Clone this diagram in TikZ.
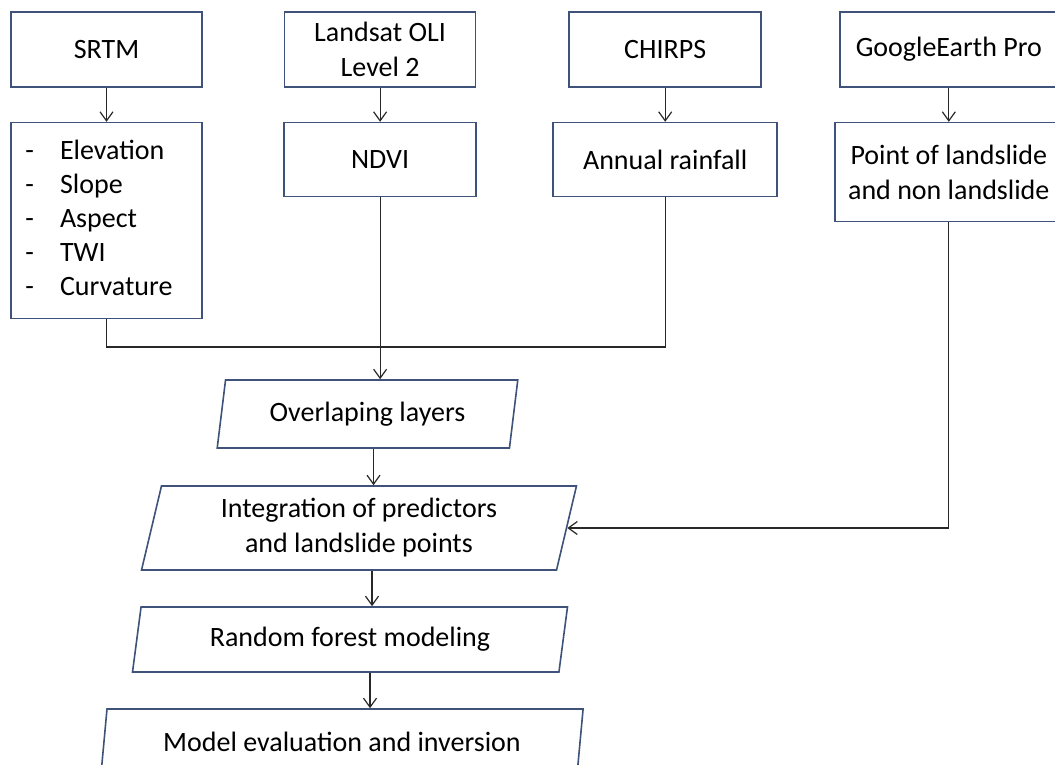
\documentclass[tikz,border=0pt]{standalone}
\usepackage{fontspec}
\setmainfont{Carlito}
\usetikzlibrary{positioning,arrows.meta,shapes.geometric}
\definecolor{boxline}{RGB}{62,82,122}
\definecolor{arrowgray}{RGB}{40,40,40}

\begin{document}
\begin{tikzpicture}[x=1pt,y=-1pt,
   font=\fontsize{28pt}{35pt}\selectfont,
   box/.style={draw=boxline,line width=1.6pt,align=center,inner sep=0pt,minimum height=75pt},
   data/.style={trapezium,trapezium left angle=76.7,trapezium right angle=103.3,
     trapezium stretches=true,draw=boxline,line width=1.6pt,align=center,inner sep=0pt},
   arr/.style={draw=arrowgray,line width=1.2pt,-{Straight Barb[length=9pt,width=13pt]}},
   link/.style={draw=arrowgray,line width=1.2pt}]
  \useasboundingbox (0,0) rectangle (1055,764);
  % data sources
  \node[box,minimum width=191pt] (srtm) at (106.5,49.5) {SRTM};
  \node[box,minimum width=191pt,right=81pt of srtm] (landsat) {Landsat OLI\\Level 2};
  \node[box,minimum width=192pt,right=92pt of landsat] (chirps) {CHIRPS};
  \node[box,minimum width=218pt,right=77pt of chirps] (gep) {GoogleEarth Pro};
  % predictors
  \node[box,minimum width=191pt,minimum height=196pt,below=34pt of srtm,
        font=\fontsize{28pt}{34pt}\selectfont] (terrain)
    {\begin{tabular}{@{}l@{\hspace{26pt}}l@{}}
       - & Elevation\\
       - & Slope\\
       - & Aspect\\
       - & TWI\\
       - & Curvature
     \end{tabular}\hspace*{15pt}};
  \node[box,minimum width=192pt,minimum height=74pt,below=34pt of landsat] (ndvi) {NDVI};
  \node[box,minimum width=224pt,minimum height=74pt,below=34pt of chirps] (rain) {Annual rainfall};
  \node[box,minimum width=228pt,minimum height=99pt,below=34pt of gep] (points)
    {Point of landslide\\and non landslide};
  % processing chain
  \node[data,minimum width=301pt,minimum height=68pt] (over) at (367.5,414) {Overlaping layers};
  \node[data,minimum width=436pt,minimum height=84pt] (integ) at (359,528)
    {Integration of predictors\\and landslide points};
  \node[data,minimum width=436pt,minimum height=65pt] (forest) at (350,639.5) {Random forest modeling};
  \node[data,minimum width=484pt,minimum height=66pt] (eval) at (342,742) {Model evaluation and inversion};

  \coordinate (merge) at (0,347);
  \draw[arr] (srtm) -- (terrain);
  \draw[arr] (landsat.south) -- (landsat.south |- ndvi.north);
  \draw[arr] (chirps) -- (rain);
  \draw[arr] (gep) -- (points);
  \draw[link] (terrain.south) -- (terrain.south |- merge) -- (rain.south |- merge) -- (rain.south);
  \draw[arr] (ndvi.south) -- (ndvi.south |- over.north);
  \draw[arr] (points.south) |- (integ.east);
  \draw[arr] ([xshift=6pt]over.south) -- ([xshift=6pt]over.south |- integ.north);
  \draw[arr] ([xshift=13pt]integ.south) -- ([xshift=13pt]integ.south |- forest.north);
  \draw[arr] ([xshift=20pt]forest.south) -- ([xshift=20pt]forest.south |- eval.north);
\end{tikzpicture}
\end{document}
